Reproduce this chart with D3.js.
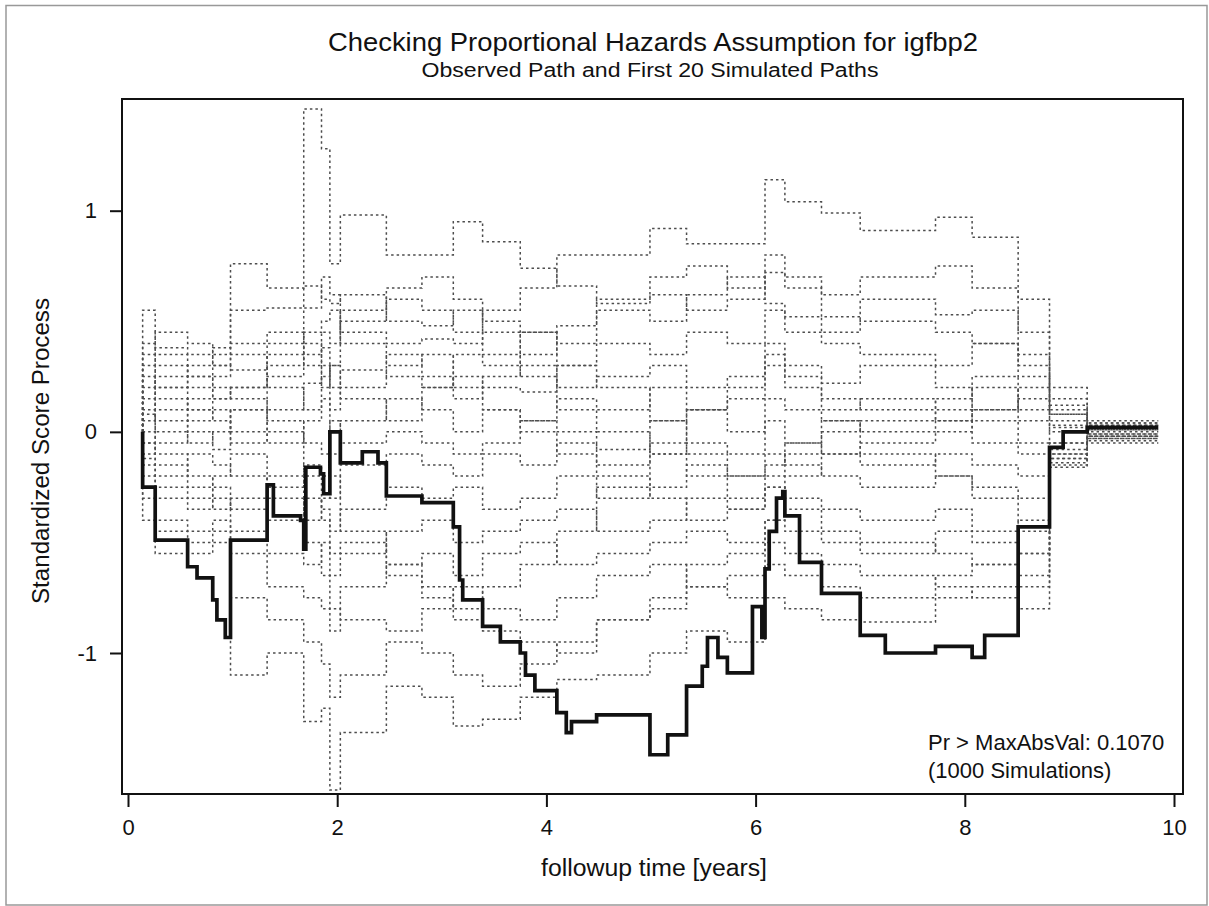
<!DOCTYPE html>
<html>
<head>
<meta charset="utf-8">
<script src="https://cdn.jsdelivr.net/npm/d3@7"></script>
<style>
  body { margin: 0; background: #fff; }
  text { font-family: "Liberation Sans", Arial, sans-serif; fill: #111; }
  .sim { fill: none; stroke: #4d4d4d; stroke-width: 1.5; stroke-dasharray: 2.5 3; }
  .obs { fill: none; stroke: #111; stroke-width: 3.7; stroke-linejoin: miter; }
  .axis path { display: none; }
  .axis line { stroke: #111; stroke-width: 2; }
  .axis text { font-size: 22px; fill: #111; }
</style>
</head>
<body>
<svg id="chart" width="1209" height="906"></svg>
<script>
const WIDTH = 1209;
const HEIGHT = 906;
const FRAME = { left: 122, top: 99, right: 1183, bottom: 794 };

// observed score process (jump times and values after each jump)
const obsTimes = [0.14, 0.26, 0.57, 0.66, 0.81, 0.85, 0.93, 0.98, 1.33, 1.39,
  1.65, 1.68, 1.70, 1.84, 1.87, 1.93, 2.03, 2.24, 2.39, 2.47,
  2.81, 3.11, 3.17, 3.20, 3.39, 3.56, 3.75, 3.80, 3.89, 4.10,
  4.19, 4.24, 4.48, 4.99, 5.16, 5.34, 5.49, 5.54, 5.64, 5.73,
  5.97, 6.06, 6.09, 6.13, 6.20, 6.26, 6.28, 6.42, 6.63, 7.00,
  7.24, 7.72, 8.07, 8.19, 8.51, 8.81, 8.94, 9.17];
const obsValues = [-0.25, -0.49, -0.61, -0.66, -0.76, -0.85, -0.93, -0.49, -0.24, -0.38,
  -0.40, -0.53, -0.16, -0.19, -0.28, 0.00, -0.14, -0.09, -0.14, -0.29,
  -0.32, -0.43, -0.67, -0.76, -0.88, -0.95, -1.00, -1.10, -1.17, -1.27,
  -1.36, -1.31, -1.28, -1.46, -1.37, -1.15, -1.06, -0.93, -1.02, -1.09,
  -0.79, -0.93, -0.62, -0.45, -0.30, -0.27, -0.38, -0.59, -0.73, -0.92,
  -1.00, -0.97, -1.02, -0.92, -0.43, -0.07, 0.00, 0.02];
const endTime = 9.85;

// jump times shared by the simulated paths
const simTimes = [0.14, 0.26, 0.57, 0.81, 0.98, 1.33, 1.68, 1.85, 1.93, 2.03,
  2.47, 2.81, 3.11, 3.39, 3.75, 4.10, 4.48, 4.99, 5.34, 5.73,
  6.09, 6.28, 6.63, 7.00, 7.72, 8.07, 8.51, 8.81, 9.17];

// first 20 simulated paths (value after each jump time)
const simPaths = [
  [0.30, 0.45, 0.40, 0.35, 0.76, 0.65, 1.46, 1.28, 0.76, 0.98, 0.80, 0.80, 0.95, 0.86, 0.74, 0.66, 0.58, 0.62, 0.55, 0.60, 0.72, 0.65, 0.52, 0.50, 0.45, 0.40, 0.30, 0.12, 0.03],
  [0.55, 0.38, 0.35, 0.30, 0.28, 0.30, 0.45, 0.50, 0.55, 0.45, 0.40, 0.42, 0.40, 0.55, 0.65, 0.80, 0.80, 0.92, 0.85, 0.85, 1.14, 1.04, 0.99, 0.91, 0.97, 0.88, 0.60, 0.20, 0.05],
  [0.10, 0.20, 0.30, 0.38, 0.55, 0.56, 0.66, 0.60, 0.58, 0.62, 0.50, 0.48, 0.55, 0.45, 0.35, 0.48, 0.60, 0.70, 0.75, 0.65, 0.80, 0.70, 0.62, 0.70, 0.75, 0.65, 0.45, 0.15, 0.04],
  [0.05, 0.25, 0.20, 0.15, 0.20, 0.35, 0.30, 0.38, 0.20, 0.28, 0.25, 0.20, 0.35, 0.30, 0.45, 0.40, 0.55, 0.50, 0.62, 0.70, 0.58, 0.52, 0.45, 0.60, 0.53, 0.55, 0.35, 0.10, 0.02],
  [-0.05, 0.10, 0.15, 0.25, 0.35, 0.20, 0.10, 0.25, 0.30, 0.15, 0.05, 0.20, 0.25, 0.20, 0.18, 0.30, 0.40, 0.35, 0.45, 0.40, 0.55, 0.45, 0.40, 0.35, 0.30, 0.40, 0.25, 0.08, 0.03],
  [0.15, 0.05, 0.10, 0.05, -0.05, 0.10, 0.22, 0.30, 0.10, 0.20, 0.35, 0.25, 0.15, 0.25, 0.30, 0.20, 0.25, 0.30, 0.20, 0.25, 0.40, 0.30, 0.22, 0.30, 0.20, 0.10, 0.15, 0.05, 0.01],
  [-0.10, -0.05, 0.05, 0.10, 0.00, -0.05, 0.05, 0.15, -0.10, 0.05, 0.15, 0.10, 0.00, 0.10, 0.05, 0.15, 0.10, 0.20, 0.10, 0.15, 0.30, 0.20, 0.10, 0.15, 0.05, 0.20, 0.10, 0.00, 0.00],
  [0.25, 0.15, 0.00, -0.08, 0.10, 0.05, -0.05, -0.10, 0.05, -0.05, 0.00, -0.05, -0.10, -0.05, 0.05, 0.00, -0.08, 0.05, 0.10, 0.00, 0.15, 0.10, 0.05, 0.00, 0.05, -0.05, -0.10, -0.05, -0.01],
  [-0.15, -0.20, -0.10, -0.15, -0.20, -0.25, -0.15, -0.20, -0.30, -0.15, -0.10, -0.15, -0.20, -0.10, -0.15, -0.05, -0.15, -0.10, -0.05, -0.10, 0.05, -0.05, -0.10, -0.15, -0.10, -0.15, -0.20, -0.10, -0.02],
  [0.00, -0.10, -0.20, -0.25, -0.35, -0.40, -0.30, -0.40, -0.45, -0.35, -0.25, -0.30, -0.25, -0.35, -0.30, -0.20, -0.30, -0.25, -0.15, -0.20, -0.10, -0.15, -0.20, -0.25, -0.20, -0.25, -0.30, -0.05, 0.02],
  [-0.20, -0.30, -0.35, -0.30, -0.45, -0.55, -0.60, -0.50, -0.65, -0.55, -0.45, -0.40, -0.50, -0.45, -0.40, -0.35, -0.45, -0.40, -0.30, -0.35, -0.25, -0.30, -0.35, -0.40, -0.35, -0.45, -0.40, -0.12, -0.03],
  [-0.30, -0.40, -0.45, -0.40, -0.55, -0.70, -0.75, -0.80, -0.90, -0.70, -0.60, -0.55, -0.65, -0.55, -0.50, -0.60, -0.55, -0.50, -0.45, -0.50, -0.40, -0.45, -0.50, -0.55, -0.45, -0.50, -0.55, -0.15, -0.04],
  [-0.40, -0.55, -0.50, -0.45, -1.10, -1.00, -1.31, -1.25, -1.62, -1.36, -1.15, -1.20, -1.33, -1.30, -1.20, -1.12, -1.10, -1.00, -0.90, -0.95, -0.75, -0.80, -0.85, -0.86, -0.75, -0.70, -0.80, -0.16, -0.05],
  [-0.25, -0.45, -0.55, -0.50, -0.75, -0.85, -0.95, -1.05, -1.20, -1.10, -0.95, -1.00, -1.10, -1.15, -1.05, -0.95, -0.85, -0.80, -0.70, -0.75, -0.60, -0.65, -0.70, -0.75, -0.65, -0.60, -0.65, -0.10, -0.02],
  [0.20, 0.30, 0.25, 0.30, 0.40, 0.45, 0.35, 0.45, 0.40, 0.50, 0.60, 0.55, 0.45, 0.35, 0.25, 0.10, 0.00, -0.10, -0.20, -0.30, -0.25, -0.35, -0.45, -0.50, -0.55, -0.60, -0.70, -0.14, -0.01],
  [-0.05, -0.15, -0.25, -0.35, -0.30, -0.20, -0.40, -0.30, -0.20, -0.45, -0.60, -0.70, -0.80, -0.90, -0.95, -1.00, -0.85, -0.75, -0.60, -0.55, -0.40, -0.20, -0.10, -0.05, 0.00, 0.10, 0.20, 0.08, 0.02],
  [0.40, 0.35, 0.25, 0.20, 0.15, 0.00, -0.20, -0.35, -0.55, -0.50, -0.65, -0.75, -0.85, -0.70, -0.60, -0.45, -0.25, -0.05, 0.10, 0.20, 0.35, 0.25, 0.15, 0.10, 0.15, 0.25, 0.05, 0.03, 0.04],
  [0.08, 0.00, -0.05, 0.00, 0.10, 0.25, 0.40, 0.20, 0.30, 0.55, 0.65, 0.70, 0.60, 0.50, 0.45, 0.30, 0.20, 0.05, -0.10, -0.20, -0.15, -0.05, 0.05, -0.10, -0.20, -0.30, -0.45, -0.08, -0.03],
  [-0.12, -0.25, -0.30, -0.20, -0.10, -0.30, -0.50, -0.65, -0.80, -0.85, -0.90, -0.80, -0.70, -0.80, -0.85, -0.75, -0.65, -0.60, -0.70, -0.65, -0.50, -0.55, -0.60, -0.65, -0.70, -0.75, -0.55, -0.12, 0.01],
  [0.35, 0.20, 0.10, 0.15, 0.20, 0.40, 0.56, 0.70, 0.62, 0.40, 0.30, 0.35, 0.20, 0.10, 0.00, -0.10, -0.20, -0.30, -0.40, -0.35, -0.20, -0.10, 0.00, 0.05, 0.10, 0.05, -0.05, 0.02, -0.02],
];

const xTicks = [0, 2, 4, 6, 8, 10];
const yTicks = [-1, 0, 1];

const svg = d3.select("#chart");

const x = d3.scaleLinear().domain([0, 10]).range([128, 1174]);
const y = d3.scaleLinear().domain([-1, 1]).range([653, 210.7]);

// turn jump times + values into step points, starting from 0
function stepPoints(times, values, tEnd) {
  const pts = [[times[0], 0]];
  times.forEach((t, i) => pts.push([t, values[i]]));
  pts.push([tEnd, values[values.length - 1]]);
  return pts;
}

const line = d3
  .line()
  .x((d) => x(d[0]))
  .y((d) => y(d[1]))
  .curve(d3.curveStepAfter);

// outer border of the image
svg
  .append("rect")
  .attr("x", 6)
  .attr("y", 5.5)
  .attr("width", 1201)
  .attr("height", 899.5)
  .attr("fill", "#fff")
  .attr("stroke", "#999")
  .attr("stroke-width", 1.5);

svg
  .append("g")
  .selectAll("path")
  .data(simPaths)
  .join("path")
  .attr("class", "sim")
  .attr("d", (d) => line(stepPoints(simTimes, d, endTime)));

svg
  .append("path")
  .attr("class", "obs")
  .attr("d", line(stepPoints(obsTimes, obsValues, endTime)));

// plot frame
svg
  .append("rect")
  .attr("x", FRAME.left)
  .attr("y", FRAME.top)
  .attr("width", FRAME.right - FRAME.left)
  .attr("height", FRAME.bottom - FRAME.top)
  .attr("fill", "none")
  .attr("stroke", "#111")
  .attr("stroke-width", 2);

svg
  .append("g")
  .attr("class", "axis")
  .attr("transform", `translate(0,${FRAME.bottom})`)
  .call(d3.axisBottom(x).tickValues(xTicks).tickSize(13).tickPadding(12).tickFormat(d3.format("d")));

svg
  .append("g")
  .attr("class", "axis")
  .attr("transform", `translate(${FRAME.left},0)`)
  .call(d3.axisLeft(y).tickValues(yTicks).tickSize(12).tickPadding(13).tickFormat((d) => (d < 0 ? "-" + Math.abs(d) : d)));

// titles and labels
svg
  .append("text")
  .attr("x", 653)
  .attr("y", 51)
  .attr("text-anchor", "middle")
  .style("font-size", "25px")
  .attr("textLength", 650)
  .attr("lengthAdjust", "spacingAndGlyphs")
  .text("Checking Proportional Hazards Assumption for igfbp2");

svg
  .append("text")
  .attr("x", 650)
  .attr("y", 77)
  .attr("text-anchor", "middle")
  .style("font-size", "20px")
  .attr("textLength", 457)
  .attr("lengthAdjust", "spacingAndGlyphs")
  .text("Observed Path and First 20 Simulated Paths");

svg
  .append("text")
  .attr("x", 654)
  .attr("y", 876)
  .attr("text-anchor", "middle")
  .style("font-size", "23px")
  .attr("textLength", 226)
  .attr("lengthAdjust", "spacingAndGlyphs")
  .text("followup time [years]");

svg
  .append("text")
  .attr("transform", "translate(49,451) rotate(-90)")
  .attr("text-anchor", "middle")
  .style("font-size", "23px")
  .attr("textLength", 306)
  .attr("lengthAdjust", "spacingAndGlyphs")
  .text("Standardized Score Process");

svg
  .append("text")
  .attr("x", 928)
  .attr("y", 750)
  .style("font-size", "22px")
  .text("Pr > MaxAbsVal: 0.1070");

svg
  .append("text")
  .attr("x", 928)
  .attr("y", 778)
  .style("font-size", "22px")
  .text("(1000 Simulations)");
</script>
</body>
</html>
